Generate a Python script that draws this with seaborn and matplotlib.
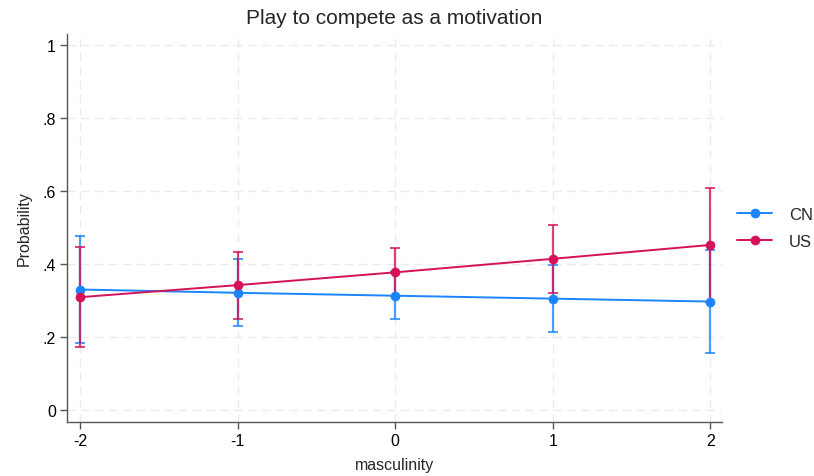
import matplotlib
matplotlib.use("Agg")
import matplotlib.pyplot as plt
import seaborn as sns
import pandas as pd

masculinity = [-2, -1, 0, 1, 2]

cn_prob = [0.330, 0.321, 0.313, 0.305, 0.297]
cn_lo = [0.183, 0.229, 0.249, 0.215, 0.157]
cn_hi = [0.477, 0.414, 0.377, 0.396, 0.439]

us_prob = [0.309, 0.342, 0.377, 0.414, 0.452]
us_lo = [0.172, 0.250, 0.311, 0.320, 0.297]
us_hi = [0.446, 0.434, 0.443, 0.507, 0.607]

groups = ["CN", "US"]
colors = {"CN": "#1a85ff", "US": "#d41159"}

sns.set_theme(style="white")
plt.rcParams["font.family"] = ["Liberation Sans", "DejaVu Sans"]

df = pd.DataFrame({
    "masculinity": masculinity * 2,
    "Probability": cn_prob + us_prob,
    "group": ["CN"] * 5 + ["US"] * 5,
})

fig = plt.figure(figsize=(8.14, 4.77), dpi=100)
ax = fig.add_axes([0.0823, 0.113, 0.805, 0.814])

# confidence intervals first
for g, p, lo, hi in [("CN", cn_prob, cn_lo, cn_hi), ("US", us_prob, us_lo, us_hi)]:
    err = [[a - b for a, b in zip(p, lo)], [b - a for a, b in zip(p, hi)]]
    ax.errorbar(masculinity, p, yerr=err, fmt="none", ecolor=colors[g],
                elinewidth=1.6, capsize=3.5, capthick=1.4, alpha=0.8, zorder=2)

sns.lineplot(data=df, x="masculinity", y="Probability", hue="group",
             hue_order=groups, palette=colors, marker="o", markersize=7,
             markeredgewidth=0, linewidth=1.4, ax=ax, zorder=3)

ax.set_xlim(-2.083, 2.076)
ax.set_ylim(-0.033, 1.03)
ax.set_xticks(masculinity)
ax.set_xticklabels(["-2", "-1", "0", "1", "2"])
ax.set_yticks([0, 0.2, 0.4, 0.6, 0.8, 1])
ax.set_yticklabels(["0", ".2", ".4", ".6", ".8", "1"])
ax.grid(True, color="#ebebeb", linestyle=(0, (6, 4)), linewidth=1)
ax.set_axisbelow(True)

for s in ["top", "right"]:
    ax.spines[s].set_visible(False)
for s in ["left", "bottom"]:
    ax.spines[s].set_color("#555555")
    ax.spines[s].set_linewidth(1)
ax.tick_params(axis="both", direction="out", length=5, width=1, color="#555555",
               labelsize=11.5, labelcolor="black", bottom=True, left=True, pad=3)

ax.set_xlabel("masculinity", fontsize=11.5, labelpad=6)
ax.set_ylabel("Probability", fontsize=11.5, labelpad=8)
ax.set_title("Play to compete as a motivation", fontsize=15, pad=8)

handles, labels = ax.get_legend_handles_labels()
ax.legend(handles, labels, loc="center left", bbox_to_anchor=(1.0, 0.50),
          frameon=False, fontsize=12, handlelength=2.1, handletextpad=1.0,
          labelspacing=0.7)

fig.savefig("out.png", dpi=100)
